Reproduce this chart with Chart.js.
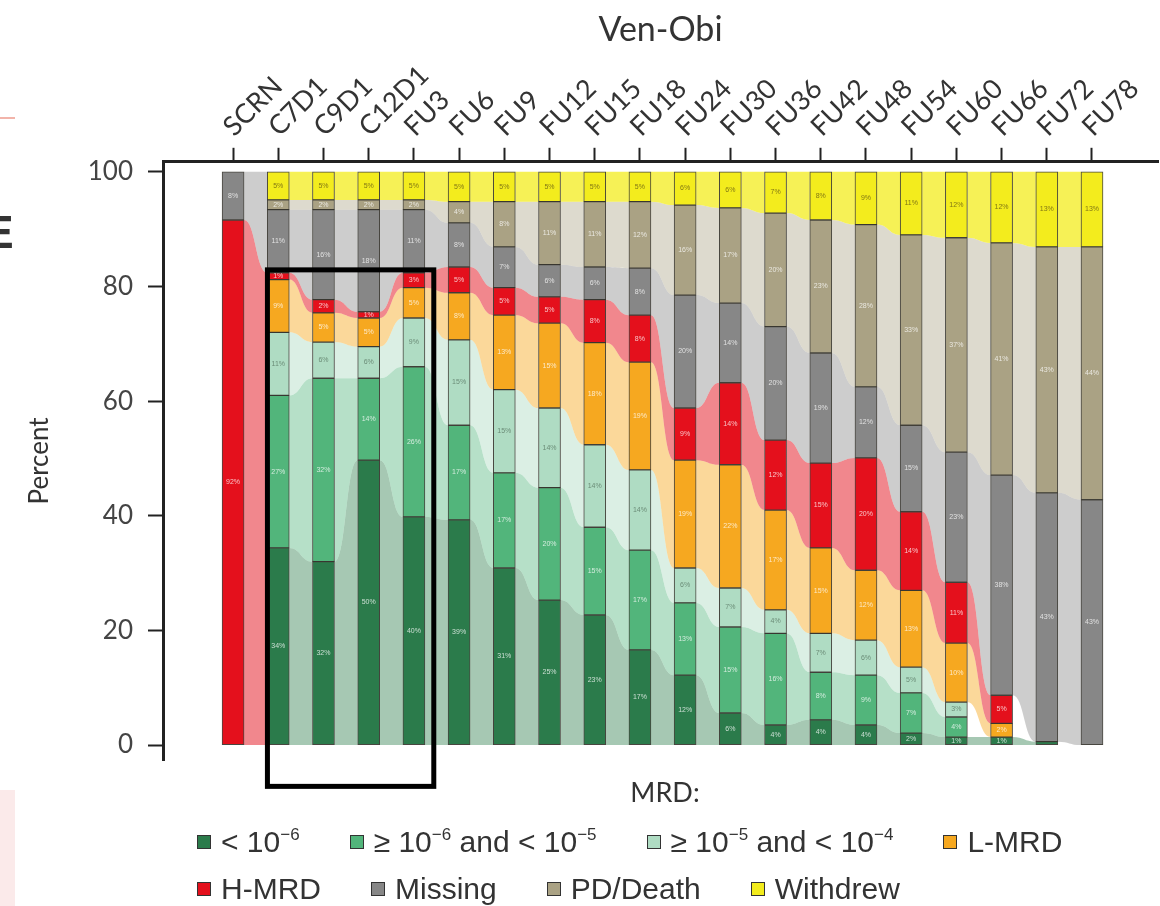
<!DOCTYPE html>
<html lang="en">
<head>
  <meta charset="UTF-8">
  <title>Ven-Obi MRD status over time</title>
  <script src="https://cdn.jsdelivr.net/npm/chart.js"></script>
  <style>
    html, body { margin: 0; padding: 0; background: #fff; }
    #wrap { position: relative; width: 1160px; height: 906px; overflow: hidden; }
    #mrdTitle { position: absolute; left: 0; width: 1160px; padding-left: 170px; box-sizing: border-box; top: 775px; text-align: center;
                font: 27px Lato, sans-serif; color: #333; }
    #legend { position: absolute; left: 197px; top: 818px; font-family: 'Liberation Sans', Arial, sans-serif; font-size: 30px; color: #333; }
    .row { display: flex; height: 47px; align-items: center; white-space: nowrap; }
    .item { display: flex; align-items: center; margin-right: 50px; }
    .box { width: 12px; height: 12px; border: 1px solid #333; margin-right: 10px; }
    sup { font-size: 17px; vertical-align: 12px; line-height: 0; }
    .crop-e { position: absolute; left: -17px; top: 205px; font: bold 46px 'Liberation Sans', Arial, sans-serif; color: #333; }
    .crop-line { position: absolute; left: 0; top: 117px; width: 15px; height: 2px; background: #f2b4aa; }
    .crop-pink { position: absolute; left: 0; top: 790px; width: 15px; height: 116px; background: #fbeaea; }
  </style>
</head>
<body>
  <div id="wrap">
    <canvas id="mrdChart" width="1160" height="906"></canvas>
    <div class="crop-e">E</div>
    <div class="crop-line"></div>
    <div class="crop-pink"></div>
    <div id="mrdTitle">MRD:</div>
    <div id="legend"></div>
  </div>

  <script>
    const categories = ['SCRN', 'C7D1', 'C9D1', 'C12D1', 'FU3', 'FU6', 'FU9', 'FU12', 'FU15', 'FU18',
                        'FU24', 'FU30', 'FU36', 'FU42', 'FU48', 'FU54', 'FU60', 'FU66', 'FU72', 'FU78'];

    // percent of patients in each MRD state, bottom of the stack first
    const mrdBelow6 = [0, 34.4, 32, 49.7, 39.8, 39.3, 30.9, 25.3, 22.7, 16.6, 12.2, 5.6, 3.5, 4.4, 3.5, 2.1, 1.4, 1.4, 0.6, 0];
    const mrd6to5   = [0, 26.6, 32, 14.3, 26.2, 16.5, 16.6, 19.6, 15.3, 17.4, 12.6, 15, 16, 8.3, 8.7, 7, 3.5, 0, 0, 0];
    const mrd5to4   = [0, 11, 6.3, 5.5, 8.5, 14.9, 14.5, 13.9, 14.4, 14, 6.1, 6.8, 4.1, 6.8, 6.1, 4.5, 2.6, 0, 0, 0];
    const lowMrd    = [0, 9.2, 5.1, 5, 5.3, 8.2, 13, 14.8, 17.8, 18.8, 18.8, 21.5, 17.4, 14.9, 12.2, 13.4, 10.3, 2.4, 0, 0];
    const highMrd   = [91.6, 1.2, 2.3, 1.1, 2.6, 4.5, 4.8, 4.6, 7.5, 8.2, 9.1, 14.3, 12.2, 14.8, 19.6, 13.7, 10.6, 4.9, 0, 0];
    const missing   = [8.4, 11, 15.7, 17.8, 11, 7.7, 7.1, 5.6, 5.7, 8.2, 19.7, 13.9, 19.8, 19.2, 12.4, 15.1, 22.7, 38.4, 43.4, 42.8];
    const pdDeath   = [0, 1.7, 1.7, 1.7, 1.7, 3.7, 7.9, 11, 11.4, 11.6, 15.7, 16.6, 19.8, 23.2, 28.3, 33.2, 37.4, 40.5, 42.9, 44.1];
    const withdrew  = [0, 4.9, 4.9, 4.9, 4.9, 5.2, 5.2, 5.2, 5.2, 5.2, 5.8, 6.3, 7.2, 8.4, 9.2, 11, 11.5, 12.4, 13.1, 13.1];

    const series = [mrdBelow6, mrd6to5, mrd5to4, lowMrd, highMrd, missing, pdDeath, withdrew];
    const seriesNames = ['< 10⁻⁶', '≥ 10⁻⁶ and < 10⁻⁵', '≥ 10⁻⁵ and < 10⁻⁴', 'L-MRD', 'H-MRD', 'Missing', 'PD/Death', 'Withdrew'];
    const seriesColors = ['#2b7b4b', '#52b57b', '#afdcc3', '#f6a820', '#e4101c', '#878787', '#aaa284', '#f3ec1d'];
    const flowAlpha = [0.42, 0.42, 0.45, 0.45, 0.5, 0.42, 0.4, 0.75];
    const yTicks = [0, 20, 40, 60, 80, 100];

    // the black box drawn over C7D1..FU3 in the figure (axis units)
    const highlight = { xFrom: 0.76, xTo: 4.44, yFrom: -7.2, yTo: 82.9 };

    const BAR_W = 22;

    function rgba(hex, a) {
      const n = parseInt(hex.slice(1), 16);
      return `rgba(${n >> 16},${(n >> 8) & 255},${n & 255},${a})`;
    }

    function baseOf(k, i) {
      let s = 0;
      for (let j = 0; j < k; j++) s += series[j][i];
      return s;
    }

    // which state at time i feeds state j at time i+1: itself, or the nearest state present
    function sourceOf(j, i) {
      if (series[j][i] > 0) return j;
      let best = -1;
      for (let k = 0; k < series.length; k++) {
        if (series[k][i] > 0 && (best < 0 || Math.abs(k - j) < Math.abs(best - j))) best = k;
      }
      return best;
    }

    // bands joining neighbouring time points
    const flows = {
      id: 'flows',
      beforeDatasetsDraw(chart) {
        const { ctx, scales: { x, y } } = chart;
        ctx.save();
        for (let i = 0; i < categories.length - 1; i++) {
          const xa = x.getPixelForValue(i) + BAR_W / 2;
          const xb = x.getPixelForValue(i + 1) - BAR_W / 2;
          const xm = (xa + xb) / 2;
          series.forEach((vals, k) => {
            const a = vals[i];
            if (!a) return;
            let lo = Infinity, hi = -Infinity;
            series.forEach((tv, j) => {
              if (tv[i + 1] > 0 && sourceOf(j, i) === k) {
                const b0 = baseOf(j, i + 1);
                lo = Math.min(lo, b0);
                hi = Math.max(hi, b0 + tv[i + 1]);
              }
            });
            if (lo === Infinity) return;
            const ba = baseOf(k, i);
            const ya0 = y.getPixelForValue(ba), ya1 = y.getPixelForValue(ba + a);
            const yb0 = y.getPixelForValue(lo), yb1 = y.getPixelForValue(hi);
            ctx.beginPath();
            ctx.moveTo(xa, ya1);
            ctx.bezierCurveTo(xm, ya1, xm, yb1, xb, yb1);
            ctx.lineTo(xb, yb0);
            ctx.bezierCurveTo(xm, yb0, xm, ya0, xa, ya0);
            ctx.closePath();
            ctx.fillStyle = rgba(seriesColors[k], flowAlpha[k]);
            ctx.fill();
          });
        }
        ctx.restore();
      }
    };

    const pctLabels = {
      id: 'pctLabels',
      afterDatasetsDraw(chart) {
        const { ctx } = chart;
        ctx.save();
        ctx.font = '7px "Liberation Sans", Arial, sans-serif';
        ctx.textAlign = 'center';
        ctx.textBaseline = 'middle';
        series.forEach((vals, k) => {
          chart.getDatasetMeta(k).data.forEach((bar, i) => {
            const v = vals[i];
            if (!v || v < 1) return;
            const p = bar.getProps(['x', 'y', 'base'], true);
            ctx.fillStyle = k === 7 ? 'rgba(110,100,20,0.85)' : (k === 2 ? 'rgba(90,120,100,0.8)' : 'rgba(255,255,255,0.75)');
            ctx.fillText(Math.round(v) + '%', p.x, (p.y + p.base) / 2);
          });
        });
        ctx.restore();
      }
    };

    const highlightBox = {
      id: 'highlightBox',
      afterDraw(chart) {
        const { ctx, scales: { x, y } } = chart;
        const l = x.getPixelForValue(highlight.xFrom), r = x.getPixelForValue(highlight.xTo);
        const t = y.getPixelForValue(highlight.yTo), b = y.getPixelForValue(highlight.yFrom);
        ctx.save();
        ctx.strokeStyle = '#000';
        ctx.lineWidth = 5;
        ctx.strokeRect(l, t, r - l, b - t);
        ctx.restore();
      }
    };

    const datasets = series.map((vals, k) => ({
      label: seriesNames[k],
      data: vals.map((v, i) => ({ x: i, y: v ? v : null })),
      backgroundColor: seriesColors[k],
      borderColor: 'rgba(40,38,30,0.85)',
      borderWidth: 1,
      borderSkipped: false,
      barThickness: BAR_W
    }));

    const ctx = document.getElementById('mrdChart').getContext('2d');
    const chart = new Chart(ctx, {
      type: 'bar',
      data: { datasets },
      plugins: [flows, pctLabels, highlightBox],
      options: {
        responsive: false,
        animation: false,
        layout: { padding: { left: 20, right: 2, top: 0, bottom: 146 } },
        plugins: {
          legend: { display: false },
          tooltip: { enabled: false },
          title: {
            display: true, text: 'Ven-Obi', fullSize: false, color: '#333',
            font: { family: 'Lato', size: 34, weight: 'normal' },
            padding: { top: 10, bottom: 0 }
          }
        },
        scales: {
          x: {
            type: 'linear', position: 'top', stacked: true, offset: false,
            min: -1.55, max: 20.46,
            afterBuildTicks: s => { s.ticks = categories.map((_, i) => ({ value: i })); },
            afterFit: s => { s.height = 111; },
            ticks: {
              autoSkip: false, minRotation: 45, maxRotation: 45, padding: 5, labelOffset: 18,
              color: '#333', font: { family: 'Lato', size: 27 },
              callback: v => categories[v]
            },
            grid: { offset: false, drawOnChartArea: false, tickLength: 14, tickWidth: 2, tickColor: '#222' },
            border: { color: '#222', width: 3 }
          },
          y: {
            stacked: true, min: -2.6, max: 101.75,
            afterBuildTicks: s => { s.ticks = yTicks.map(v => ({ value: v })); },
            afterFit: s => { s.width = 143; },
            ticks: { padding: 15, color: '#444', font: { family: 'Lato', size: 26 } },
            grid: { drawOnChartArea: false, tickLength: 15, tickWidth: 2, tickColor: '#222' },
            border: { color: '#222', width: 3 },
            title: { display: true, text: 'Percent', color: '#333', font: { family: 'Lato', size: 26 }, padding: { top: 4, bottom: 4 } }
          }
        }
      }
    });

    // legend in two rows, as in the figure
    function legendHtml(name) {
      const sup = { '⁻': '−', '⁰': '0', '¹': '1', '²': '2', '³': '3', '⁴': '4', '⁵': '5', '⁶': '6', '⁷': '7', '⁸': '8', '⁹': '9' };
      return name.replace(/</g, '&lt;')
                 .replace(/[⁻⁰-⁹¹²³]+/g, m => '<sup>' + [...m].map(c => sup[c]).join('') + '</sup>');
    }
    const legendEl = document.getElementById('legend');
    [[0, 1, 2, 3], [4, 5, 6, 7]].forEach(idx => {
      const row = document.createElement('div');
      row.className = 'row';
      idx.forEach(k => {
        const it = document.createElement('div');
        it.className = 'item';
        it.innerHTML = `<span class="box" style="background:${seriesColors[k]}"></span><span>${legendHtml(seriesNames[k])}</span>`;
        row.appendChild(it);
      });
      legendEl.appendChild(row);
    });
  </script>
</body>
</html>
